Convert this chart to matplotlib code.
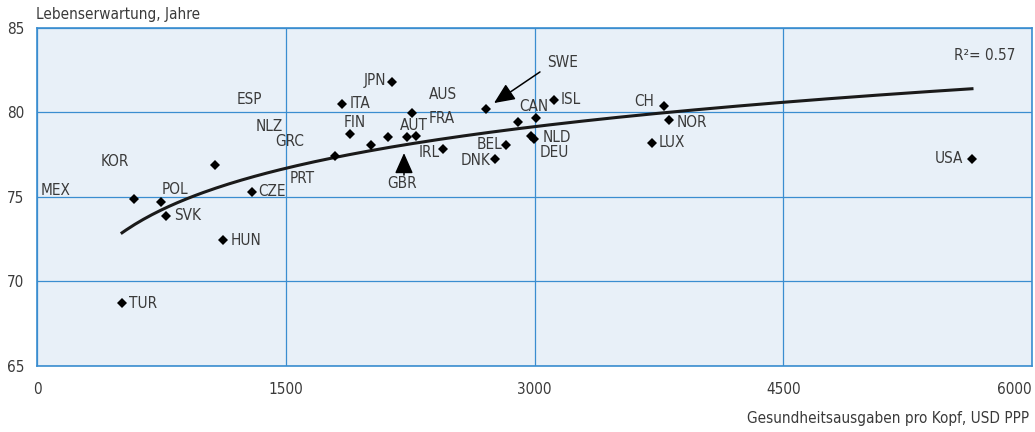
"""
Lebenserwartung vs. Gesundheitsausgaben pro Kopf (OECD), mit log-Trendlinie.
Writes out.png (1035x432).
"""
import numpy as np
import matplotlib
matplotlib.use("Agg")
import matplotlib.pyplot as plt
from matplotlib import font_manager as fm

# --- data --------------------------------------------------------------------
countries = ["TUR", "MEX", "POL", "SVK", "KOR", "HUN", "CZE", "PRT", "ITA", "FIN",
             "GRC", "NZL", "JPN", "GBR", "ESP", "AUT", "IRL", "SWE", "DNK", "BEL",
             "FRA", "NLD", "DEU", "CAN", "ISL", "LUX", "CH", "NOR", "USA"]
spend = [513, 585, 748, 778, 1073, 1122, 1297, 1797, 1839, 1887,
         2014, 2117, 2141, 2231, 2261, 2285, 2448, 2708, 2762, 2828,
         2901, 2979, 2997, 3010, 3118, 3709, 3781, 3811, 5638]
life = [68.7, 74.9, 74.7, 73.9, 76.9, 72.45, 75.3, 77.4, 80.5, 78.7,
        78.1, 78.55, 81.8, 78.55, 79.97, 78.6, 77.85, 80.2, 77.25, 78.1,
        79.45, 78.6, 78.43, 79.7, 80.74, 78.2, 80.4, 79.55, 77.25]
r_squared = 0.57

x_ticks = [0, 1500, 3000, 4500, 6000]
y_ticks = [65, 70, 75, 80, 85]

# label placement in data coords: text -> (x, y, ha)
LABELS = {
    "MEX": (24, 75.36, "left"),   "KOR": (470, 77.1, "center"),
    "POL": (829, 75.44, "center"), "SVK": (826, 73.88, "left"),
    "HUN": (1170, 72.45, "left"),  "TUR": (555, 68.67, "left"),
    "CZE": (1333, 75.33, "left"),  "ESP": (1283, 80.76, "center"),
    "NLZ": (1399, 79.16, "center"), "GRC": (1523, 78.27, "center"),
    "PRT": (1598, 76.1, "center"), "JPN": (2105, 81.92, "right"),
    "ITA": (1888, 80.54, "left"),  "FIN": (1918, 79.4, "center"),
    "AUS": (2448, 81.04, "center"), "FRA": (2442, 79.64, "center"),
    "AUT": (2273, 79.26, "center"), "IRL": (2430, 77.62, "right"),
    "GBR": (2201, 75.77, "center"), "BEL": (2804, 78.11, "right"),
    "DNK": (2732, 77.16, "right"), "CAN": (2995, 80.38, "center"),
    "NLD": (3051, 78.55, "left"),  "DEU": (3033, 77.62, "left"),
    "ISL": (3160, 80.74, "left"),  "SWE": (3172, 82.96, "center"),
    "CH": (3721, 80.64, "right"),  "NOR": (3859, 79.38, "left"),
    "LUX": (3751, 78.2, "left"),   "USA": (5584, 77.25, "right"),
}

BG = "#e8f0f8"
BLUE = "#3a8dd0"
TXT = "#3a3a3a"


def pick_font():
    # reference uses a condensed face; take the narrowest one that is installed
    names = {f.name for f in fm.fontManager.ttflist}
    if "Liberation Sans Narrow" in names:
        return dict(family="Liberation Sans Narrow"), 12.5
    cond = [f for f in fm.fontManager.ttflist
            if f.name == "DejaVu Sans" and "Condensed" in f.fname]
    if cond:
        return dict(family="DejaVu Sans", stretch="condensed"), 11
    return dict(family="Roboto"), 11


font, FS = pick_font()
plt.rcParams["font.family"] = [font["family"], "DejaVu Sans"]
if "stretch" in font:
    plt.rcParams["font.stretch"] = font["stretch"]

fig = plt.figure(figsize=(10.35, 4.32), dpi=100)
ax = fig.add_axes([37 / 1035, 1 - 366 / 432, 995 / 1035, 338 / 432])
ax.set_facecolor(BG)

ax.set_xlim(0, 6000)
ax.set_ylim(65, 85)
ax.set_xticks(x_ticks)
ax.set_yticks(y_ticks)
ax.tick_params(length=0, labelsize=FS, labelcolor=TXT)
ax.tick_params(axis="x", pad=11.5)
ax.tick_params(axis="y", pad=9)
ax.get_xticklabels()[-1].set_horizontalalignment("right")
ax.grid(True, color=BLUE, lw=0.9)
ax.set_axisbelow(True)
for s in ax.spines.values():
    s.set_color(BLUE)
    s.set_linewidth(1.2)

# logarithmic trend line, fitted to the points
b, a = np.polyfit(np.log(spend), life, 1)
xs = np.linspace(min(spend), max(spend), 200)
ax.plot(xs, a + b * np.log(xs), color="#1a1a1a", lw=2.2, zorder=3)

ax.plot(spend, life, "D", color="black", ms=5, mew=0, zorder=4)

for name, (lx, ly, ha) in LABELS.items():
    ax.text(lx, ly, name, ha=ha, va="center", fontsize=FS, color=TXT, zorder=5)

arrow = dict(arrowstyle="-|>,head_length=0.9,head_width=0.4", color="black",
             lw=1.1, shrinkA=0, shrinkB=0, mutation_scale=14)
ax.annotate("", xy=(2756, 80.56), xytext=(3033, 82.4), arrowprops=arrow, zorder=5)
ax.annotate("", xy=(2213, 77.6), xytext=(2213, 76.3), arrowprops=arrow, zorder=5)

ax.text(5717, 83.4, f"R²= {r_squared:.2f}", ha="center", va="center", fontsize=FS, color=TXT)

fig.text(36 / 1035, 1 - 14 / 432, "Lebenserwartung, Jahre", ha="left", va="center",
         fontsize=FS, color=TXT)
fig.text(1029 / 1035, 1 - 418 / 432, "Gesundheitsausgaben pro Kopf, USD PPP",
         ha="right", va="center", fontsize=FS, color=TXT)

fig.savefig("out.png", dpi=100, facecolor="white")
